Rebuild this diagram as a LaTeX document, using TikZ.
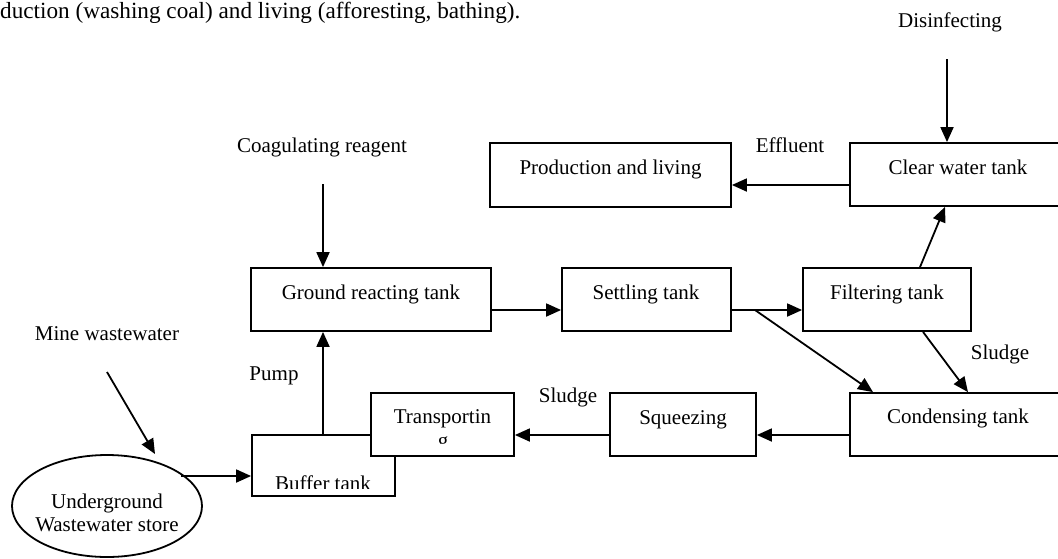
\documentclass[tikz,border=0pt]{standalone}
\usepackage{fontspec}
\setmainfont{Liberation Serif}
\usetikzlibrary{arrows.meta,shapes.geometric}
\begin{document}
\begin{tikzpicture}[x=1pt,y=-1pt,
  font=\fontsize{21}{24}\selectfont,
  box/.style={draw, line width=1.8pt, fill=white, inner sep=0pt},
  txt/.style={anchor=base, inner sep=0pt},
  arr/.style={line width=1.8pt, -{Triangle[length=15pt,width=13pt]}}]
\useasboundingbox (0,0) rectangle (1058,558);

% top text
\node[anchor=base west, inner sep=0pt, font=\fontsize{23.2}{26}\selectfont] (toptxt) at (0,18) {duction (washing coal) and living (afforesting, bathing).};

% boxes
\node[box, minimum width=241, minimum height=64] (prod) at (610.5,175) {};
\node[txt] (prodtxt) at (610.5,174) {Production and living};
\node[box, minimum width=216, minimum height=63] (clear) at (958,174.5) {};
\node[txt] (cleartxt) at (958,174) {Clear water tank};
\node[box, minimum width=240, minimum height=63] (gr) at (371,299.5) {};
\node[txt] (grtxt) at (371,299) {Ground reacting tank};
\node[box, minimum width=169, minimum height=63] (settle) at (646.5,299.5) {};
\node[txt] (settletxt) at (646,299) {Settling tank};
\node[box, minimum width=168, minimum height=63] (filt) at (887,299.5) {};
\node[txt] (filttxt) at (887,299) {Filtering tank};
\node[box, minimum width=216, minimum height=63] (cond) at (958,424.5) {};
\node[txt] (condtxt) at (958,423) {Condensing tank};
\node[box, minimum width=146, minimum height=63] (squeeze) at (683,424.5) {};
\node[txt] (squeezetxt) at (683,424) {Squeezing};

\node[box, minimum width=143, minimum height=61] (buffer) at (323.5,465.5) {};
\begin{scope}
  \clip (252,435) rectangle (395,488);
  \node[txt] (buftxt) at (323,490) {Buffer tank};
\end{scope}
\node[box, minimum width=143, minimum height=63] (transp) at (442.5,424.5) {};
\begin{scope}
  \clip (371,393) rectangle (514,443);
  \node[txt] (transptxt) at (442.5,423) {Transportin};
  \node[txt] (transpg) at (443,447) {g};
\end{scope}

\node[draw, ellipse, line width=1.8pt, minimum width=190, minimum height=102, inner sep=0pt] (store) at (107,506) {};
\node[txt] (storetxt1) at (107,508) {Underground};
\node[txt] (storetxt2) at (107,531) {Wastewater store};

% labels
\node[txt] (distxt) at (950,27) {Disinfecting};
\node[txt] (efftxt) at (790,152) {Effluent};
\node[txt] (coagtxt) at (322,152) {Coagulating reagent};
\node[txt] (minetxt) at (107,340) {Mine wastewater};
\node[txt] (pumptxt) at (274,380) {Pump};
\node[txt] (sludge1) at (1000,359) {Sludge};
\node[txt] (sludge2) at (568,402) {Sludge};

% connectors
\coordinate (disA) at (947,59);
\draw[arr] (disA) -- (disA |- clear.north);
\coordinate (coagA) at (323,184);
\draw[arr] (coagA) -- (coagA |- gr.north);
\path ([yshift=-10.5pt]clear.west) coordinate (e1);
\draw[arr] (e1) -- (e1 -| prod.east);
\path ([yshift=-10.5pt]gr.east) coordinate (g1);
\draw[arr] (g1) -- (g1 -| settle.west);
\path ([yshift=-10.5pt]settle.east) coordinate (s1);
\draw[arr] (s1) -- (s1 -| filt.west);
\coordinate (s2) at (755,310);
\draw[arr] (s2) -- ([xshift=-85pt]cond.north);
\draw[arr] ([xshift=33pt]filt.north) -- ([xshift=-13pt]clear.south);
\draw[arr] ([xshift=36pt]filt.south) -- ([xshift=10pt]cond.north);
\path ([yshift=-10.5pt]cond.west) coordinate (c1);
\draw[arr] (c1) -- (c1 -| squeeze.east);
\path ([yshift=-10.5pt]squeeze.west) coordinate (q1);
\draw[arr] (q1) -- (q1 -| transp.east);
\path ([xshift=-0.5pt]buffer.north) coordinate (b1);
\draw[arr] (b1) -- (b1 |- gr.south);
\coordinate (mA) at (107,372);
\coordinate (mB) at (155,454);
\draw[arr] (mA) -- (mB);
\coordinate (u1) at (181,476);
\draw[arr] (u1) -- (u1 -| buffer.west);
\end{tikzpicture}
\end{document}
